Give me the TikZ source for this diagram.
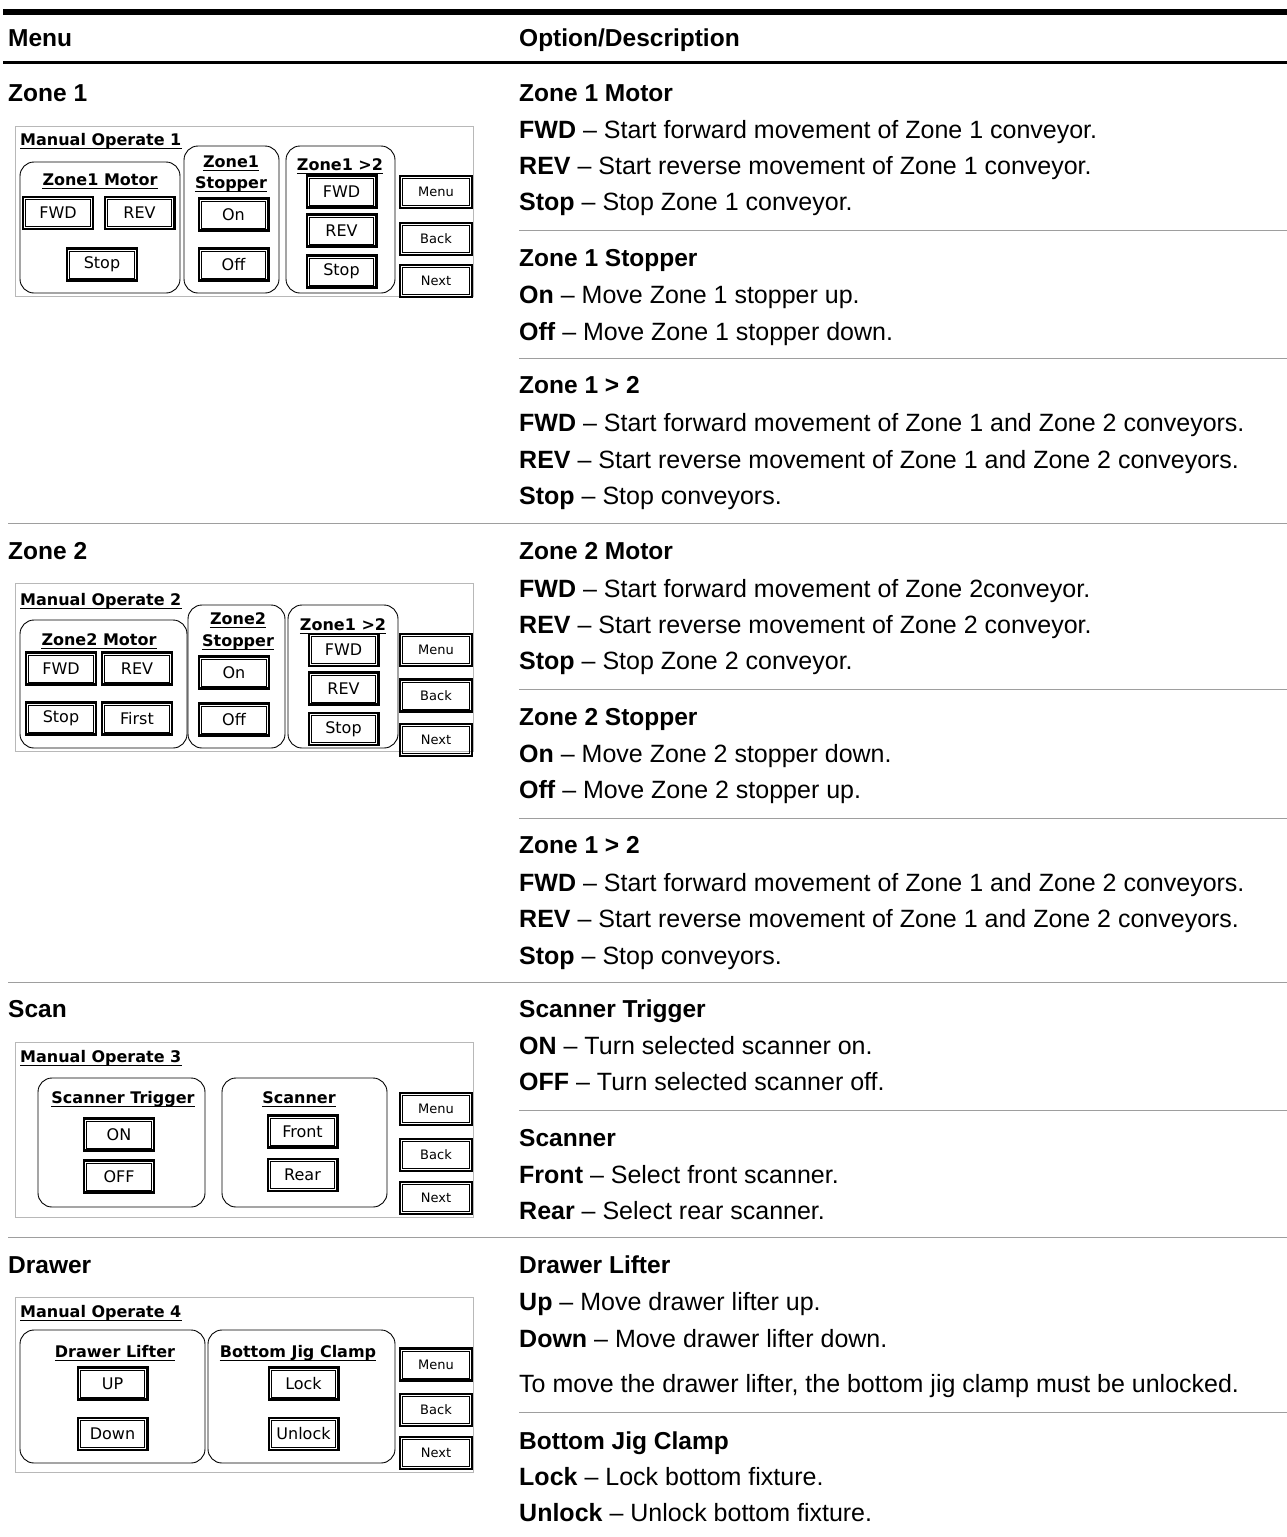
\documentclass[tikz,border=0pt]{standalone}
\usepackage{fontspec}
\setmainfont{Liberation Sans}
\newfontfamily\scrfont{DejaVu Sans}
\definecolor{rulegrey}{gray}{0.62}
\definecolor{framegrey}{gray}{0.72}

\begin{document}
\begin{tikzpicture}[x=1pt, y=-1pt]
  \tikzstyle{btn} = [draw, line width=2.4pt, inner sep=0pt,
    minimum width=69.6pt, minimum height=32pt, font=\scrfont\fontsize{16}{16}\selectfont,
    path picture={\draw[line width=0.8pt]
      ([shift={(2.6pt,2.6pt)}]path picture bounding box.south west) rectangle
      ([shift={(-2.6pt,-2.6pt)}]path picture bounding box.north east);}]
  \tikzstyle{navbtn} = [btn, minimum width=71.6pt, font=\scrfont\fontsize{13}{13}\selectfont]
  \tikzstyle{group} = [draw, line width=0.9pt, rounded corners=14pt]
  \tikzstyle{frame} = [draw=framegrey, line width=1pt]
  \tikzstyle{title} = [inner sep=0pt, anchor=base,
    font=\scrfont\bfseries\fontsize{16}{16}\selectfont,
    append after command={([yshift=-3pt]\tikzlastnode.base west)
      edge[line width=1pt] ([yshift=-3pt]\tikzlastnode.base east)}]
  \tikzstyle{head} = [anchor=base west, inner sep=0pt, font=\bfseries\fontsize{24.5}{24.5}\selectfont]
  \tikzstyle{desc} = [anchor=base west, inner sep=0pt, font=\fontsize{25}{25}\selectfont]
  \tikzstyle{sep} = [draw=rulegrey, line width=1pt]

  \useasboundingbox (0,0) rectangle (1287,1537);

  % Table rules
  \fill (3,9) rectangle (1287,15);
  \fill (3,61) rectangle (1287,64);
  \draw[sep] (519,230) -- (1287,230);
  \draw[sep] (519,358) -- (1287,358);
  \draw[sep] (8,523) -- (1287,523);
  \draw[sep] (519,689) -- (1287,689);
  \draw[sep] (519,818) -- (1287,818);
  \draw[sep] (8,982) -- (1287,982);
  \draw[sep] (519,1110) -- (1287,1110);
  \draw[sep] (8,1237) -- (1287,1237);
  \draw[sep] (519,1412) -- (1287,1412);

  % Header
  \node[head] (hmenu) at (8,46) {Menu};
  \node[head] (hopt) at (519,46) {Option/Description};

  % Left column
  \node[head] (zone1) at (8,101) {Zone 1};
  \node[head] (zone2) at (8,559) {Zone 2};
  \node[head] (scan) at (8,1017) {Scan};
  \node[head] (drawer) at (8,1273) {Drawer};

  % Zone 1 descriptions
  \node[head] (z1motor) at (519,101) {Zone 1 Motor};
  \node[desc] (z1fwd) at (519,138) {\textbf{FWD} -- Start forward movement of Zone 1 conveyor.};
  \node[desc] (z1rev) at (519,174) {\textbf{REV} -- Start reverse movement of Zone 1 conveyor.};
  \node[desc] (z1stop) at (519,210) {\textbf{Stop} -- Stop Zone 1 conveyor.};
  \node[head] (z1stopper) at (519,266) {Zone 1 Stopper};
  \node[desc] (z1on) at (519,303) {\textbf{On} -- Move Zone 1 stopper up.};
  \node[desc] (z1off) at (519,340) {\textbf{Off} -- Move Zone 1 stopper down.};
  \node[head] (z1both) at (519,393) {Zone 1 > 2};
  \node[desc] (z1bfwd) at (519,431) {\textbf{FWD} -- Start forward movement of Zone 1 and Zone 2 conveyors.};
  \node[desc] (z1brev) at (519,468) {\textbf{REV} -- Start reverse movement of Zone 1 and Zone 2 conveyors.};
  \node[desc] (z1bstop) at (519,504) {\textbf{Stop} -- Stop conveyors.};

  % Zone 2 descriptions
  \node[head] (z2motor) at (519,559) {Zone 2 Motor};
  \node[desc] (z2fwd) at (519,597) {\textbf{FWD} -- Start forward movement of Zone 2conveyor.};
  \node[desc] (z2rev) at (519,633) {\textbf{REV} -- Start reverse movement of Zone 2 conveyor.};
  \node[desc] (z2stop) at (519,669) {\textbf{Stop} -- Stop Zone 2 conveyor.};
  \node[head] (z2stopper) at (519,725) {Zone 2 Stopper};
  \node[desc] (z2on) at (519,762) {\textbf{On} -- Move Zone 2 stopper down.};
  \node[desc] (z2off) at (519,798) {\textbf{Off} -- Move Zone 2 stopper up.};
  \node[head] (z2both) at (519,853) {Zone 1 > 2};
  \node[desc] (z2bfwd) at (519,891) {\textbf{FWD} -- Start forward movement of Zone 1 and Zone 2 conveyors.};
  \node[desc] (z2brev) at (519,927) {\textbf{REV} -- Start reverse movement of Zone 1 and Zone 2 conveyors.};
  \node[desc] (z2bstop) at (519,964) {\textbf{Stop} -- Stop conveyors.};

  % Scan descriptions
  \node[head] (scantrig) at (519,1017) {Scanner Trigger};
  \node[desc] (scanon) at (519,1054) {\textbf{ON} -- Turn selected scanner on.};
  \node[desc] (scanoff) at (519,1090) {\textbf{OFF} -- Turn selected scanner off.};
  \node[head] (scanner) at (519,1146) {Scanner};
  \node[desc] (scanfront) at (519,1183) {\textbf{Front} -- Select front scanner.};
  \node[desc] (scanrear) at (519,1219) {\textbf{Rear} -- Select rear scanner.};

  % Drawer descriptions
  \node[head] (lifter) at (519,1273) {Drawer Lifter};
  \node[desc] (lifterup) at (519,1310) {\textbf{Up} -- Move drawer lifter up.};
  \node[desc] (lifterdown) at (519,1347) {\textbf{Down} -- Move drawer lifter down.};
  \node[desc] (liftnote) at (519,1392) {To move the drawer lifter, the bottom jig clamp must be unlocked.};
  \node[head] (clamp) at (519,1449) {Bottom Jig Clamp};
  \node[desc] (clamplock) at (519,1485) {\textbf{Lock} -- Lock bottom fixture.};
  \node[desc] (clampunlock) at (519,1521) {\textbf{Unlock} -- Unlock bottom fixture.};

  % Screen 1
  \draw[frame] (15,126) rectangle (473,296);
  \node[title, anchor=base west] (p1name) at (20,145) {Manual Operate 1};
  \draw[group] (20,162) rectangle (180,293);
  \draw[group] (184,146) rectangle (279,293);
  \draw[group] (286,146) rectangle (395,293);
  \node[title] (p1motor) at (100,185) {Zone1 Motor};
  \node[title] (p1zone) at (231,167) {Zone1};
  \node[title] (p1stopper) at (231,188) {Stopper};
  \node[title] (p1both) at (340,170) {Zone1 >2};
  \node[btn] (p1fwd) at (58,213) {FWD};
  \node[btn] (p1rev) at (139.5,213) {REV};
  \node[btn] (p1stop) at (102,264.5) {Stop};
  \node[btn] (p1on) at (233.5,214.5) {On};
  \node[btn] (p1off) at (233.5,264.5) {Off};
  \node[btn] (p1bfwd) at (341.5,191.5) {FWD};
  \node[btn] (p1brev) at (341.5,230.5) {REV};
  \node[btn] (p1bstop) at (341.5,271.5) {Stop};
  \node[navbtn] (p1menu) at (436,192) {Menu};
  \node[navbtn] (p1back) at (436,239) {Back};
  \node[navbtn] (p1next) at (436,281) {Next};

  % Screen 2
  \draw[frame] (15,583) rectangle (473,751);
  \node[title, anchor=base west] (p2name) at (20,605) {Manual Operate 2};
  \draw[group] (20,620) rectangle (187,748);
  \draw[group] (188,605) rectangle (285,748);
  \draw[group] (288,605) rectangle (398,748);
  \node[title] (p2motor) at (99,645) {Zone2 Motor};
  \node[title] (p2zone) at (238,624) {Zone2};
  \node[title] (p2stopper) at (238,646) {Stopper};
  \node[title] (p2both) at (343,630) {Zone1 >2};
  \node[btn] (p2fwd) at (61,668.5) {FWD};
  \node[btn] (p2rev) at (137,668.5) {REV};
  \node[btn] (p2stop) at (61,718.5) {Stop};
  \node[btn] (p2first) at (137,718.5) {First};
  \node[btn] (p2on) at (234,672.5) {On};
  \node[btn] (p2off) at (234,719.5) {Off};
  \node[btn] (p2bfwd) at (343.5,650) {FWD};
  \node[btn] (p2brev) at (343.5,688.5) {REV};
  \node[btn] (p2bstop) at (343.5,729) {Stop};
  \node[navbtn] (p2menu) at (436,650) {Menu};
  \node[navbtn] (p2back) at (436,695.5) {Back};
  \node[navbtn] (p2next) at (436,740) {Next};

  % Screen 3
  \draw[frame] (15,1042) rectangle (473,1217);
  \node[title, anchor=base west] (p3name) at (20,1062) {Manual Operate 3};
  \draw[group] (38,1078) rectangle (205,1207);
  \draw[group] (222,1078) rectangle (387,1207);
  \node[title] (p3trig) at (123,1103) {Scanner Trigger};
  \node[title] (p3scanner) at (299,1103) {Scanner};
  \node[btn] (p3on) at (119,1134.5) {ON};
  \node[btn] (p3off) at (119,1176.5) {OFF};
  \node[btn] (p3front) at (302.5,1131.5) {Front};
  \node[btn] (p3rear) at (302.5,1175) {Rear};
  \node[navbtn] (p3menu) at (436,1109) {Menu};
  \node[navbtn] (p3back) at (436,1155) {Back};
  \node[navbtn] (p3next) at (436,1198) {Next};

  % Screen 4
  \draw[frame] (15,1297) rectangle (473,1472);
  \node[title, anchor=base west] (p4name) at (20,1317) {Manual Operate 4};
  \draw[group] (20,1330) rectangle (205,1463);
  \draw[group] (208,1330) rectangle (395,1463);
  \node[title] (p4lifter) at (115,1357) {Drawer Lifter};
  \node[title] (p4clamp) at (298,1357) {Bottom Jig Clamp};
  \node[btn] (p4up) at (112.5,1383.5) {UP};
  \node[btn] (p4down) at (112.5,1434) {Down};
  \node[btn] (p4lock) at (303.5,1383.5) {Lock};
  \node[btn] (p4unlock) at (303.5,1434) {Unlock};
  \node[navbtn] (p4menu) at (436,1364.5) {Menu};
  \node[navbtn] (p4back) at (436,1410) {Back};
  \node[navbtn] (p4next) at (436,1453) {Next};
\end{tikzpicture}
\end{document}
